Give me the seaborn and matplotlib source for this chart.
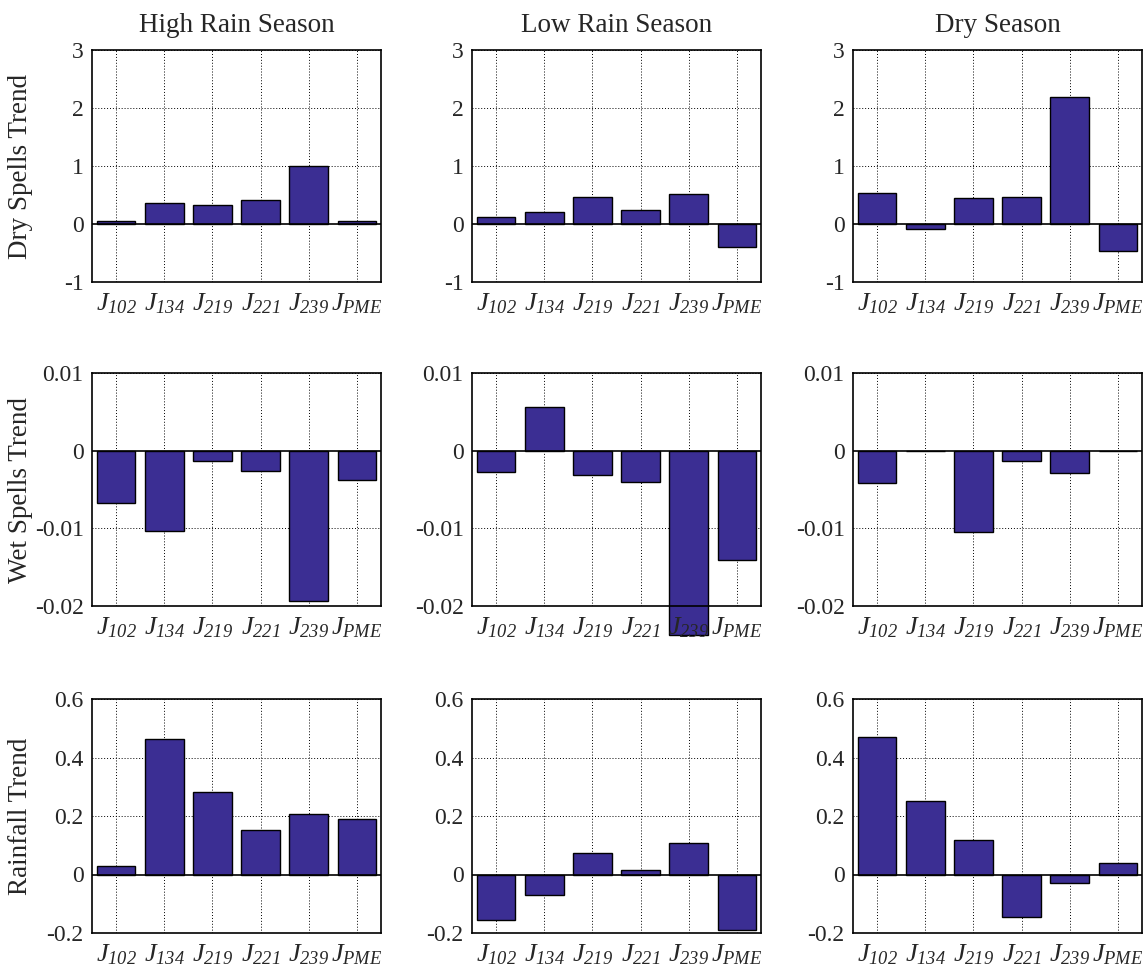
import matplotlib
matplotlib.use("Agg")
import matplotlib.pyplot as plt
import seaborn as sns
import pandas as pd

stations = ["J102", "J134", "J219", "J221", "J239", "JPME"]
tick_labels = [r"$J_{102}$", r"$J_{134}$", r"$J_{219}$",
               r"$J_{221}$", r"$J_{239}$", r"$J_{PME}$"]
seasons = ["High Rain Season", "Low Rain Season", "Dry Season"]
row_labels = ["Dry Spells Trend", "Wet Spells Trend", "Rainfall Trend"]

dry_high = [0.046, 0.37, 0.32, 0.41, 1.00, 0.05]
dry_low = [0.126, 0.20, 0.46, 0.24, 0.52, -0.39]
dry_dry = [0.53, -0.08, 0.44, 0.46, 2.19, -0.46]

wet_high = [-0.0067, -0.0103, -0.0013, -0.0026, -0.0194, -0.0038]
wet_low = [-0.0027, 0.0056, -0.0031, -0.0040, -0.0237, -0.0141]
wet_dry = [-0.0042, 0.0, -0.0105, -0.0013, -0.0029, 0.0]

rain_high = [0.029, 0.464, 0.281, 0.151, 0.208, 0.189]
rain_low = [-0.154, -0.069, 0.073, 0.015, 0.107, -0.189]
rain_dry = [0.469, 0.250, 0.117, -0.145, -0.029, 0.039]

data = [[dry_high, dry_low, dry_dry],
        [wet_high, wet_low, wet_dry],
        [rain_high, rain_low, rain_dry]]
ylims = [(-1, 3), (-0.02, 0.01), (-0.2, 0.6)]
yticks = [[-1, 0, 1, 2, 3], [-0.02, -0.01, 0, 0.01], [-0.2, 0, 0.2, 0.4, 0.6]]
yticklabels = [["-1", "0", "1", "2", "3"], ["-0.02", "-0.01", "0", "0.01"],
               ["-0.2", "0", "0.2", "0.4", "0.6"]]

sns.set_style("white")
plt.rcParams['font.family'] = ['Liberation Serif', 'DejaVu Serif']
plt.rcParams['mathtext.fontset'] = 'custom'
plt.rcParams['mathtext.it'] = 'Liberation Serif:italic'
plt.rcParams['mathtext.rm'] = 'Liberation Serif:italic'
plt.rcParams['mathtext.default'] = 'it'

W, H = 1146, 973
fig = plt.figure(figsize=(W / 100, H / 100), dpi=100)
col_x = [(92, 381), (472, 761), (853, 1142)]
row_y = [(50, 282), (373, 606), (699, 933)]

bar_color = "#3b2e93"
grid_style = dict(color="black", linestyle=(0, (1, 2)), linewidth=0.7, zorder=0.5)
for r in range(3):
    for c in range(3):
        x0, x1 = col_x[c]
        y0, y1 = row_y[r]
        ax = fig.add_axes([x0 / W, 1 - y1 / H, (x1 - x0) / W, (y1 - y0) / H])
        df = pd.DataFrame({"station": stations, "value": data[r][c]})
        sns.barplot(data=df, x="station", y="value", ax=ax, color=bar_color,
                    saturation=1, edgecolor="black", linewidth=1.0, width=0.8,
                    zorder=1.5)
        for p in ax.patches:
            p.set_clip_on(False)
        ax.set_xlim(-0.5, 5.5)
        ax.set_ylim(*ylims[r])
        ax.set_yticks(yticks[r])
        ax.set_yticklabels(yticklabels[r])
        ax.set_xticks(range(6))
        ax.set_xticklabels(tick_labels)
        for xv in range(6):
            ax.axvline(xv, **grid_style)
        for yv in yticks[r]:
            if yv != 0:
                ax.axhline(yv, **grid_style)
        ax.axhline(0, color="black", lw=1.2, zorder=1.8)
        ax.grid(False)
        ax.set_axisbelow(False)
        ax.tick_params(axis="both", direction="in", length=4, labelsize=17,
                       width=0.8, pad=6)
        ax.tick_params(axis="x", labelsize=19, pad=7)
        for s in ax.spines.values():
            s.set_color("black")
            s.set_linewidth(1.2)
        ax.set_xlabel("")
        if c == 0:
            ax.set_ylabel(row_labels[r], fontsize=19.5)
            ax.yaxis.set_label_coords(-0.205, 0.5)
        else:
            ax.set_ylabel("")
        if r == 0:
            ax.set_title(seasons[c], fontsize=19.5, pad=13)

fig.savefig("out.png", dpi=100)
